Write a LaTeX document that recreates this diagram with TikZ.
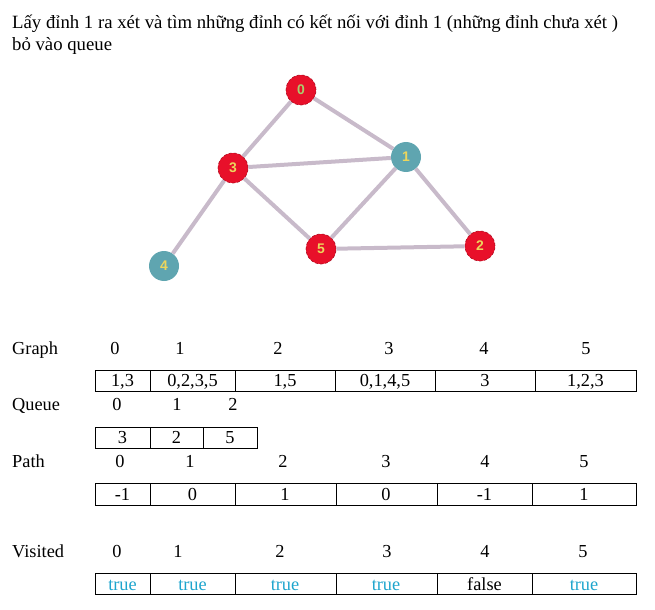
\documentclass[tikz,border=0pt]{standalone}
\usepackage{fontspec}
\setmainfont{Liberation Serif}
\setsansfont{Liberation Sans}
\usetikzlibrary{positioning}
\definecolor{nodered}{RGB}{232,16,42}
\definecolor{nodeteal}{RGB}{95,165,176}
\definecolor{edgegrey}{RGB}{200,186,202}
\definecolor{labelyellow}{RGB}{236,214,92}
\definecolor{labelgreen}{RGB}{170,205,110}
\definecolor{truecyan}{RGB}{30,165,205}
\tikzset{
	vtx/.style={circle, minimum size=30bp, inner sep=0pt, font=\sffamily\bfseries\fontsize{14}{14}\selectfont, text=labelyellow},
	redvtx/.style={vtx, fill=nodered, draw=nodered!75!black, densely dashed, line width=0.6bp},
	tealvtx/.style={vtx, fill=nodeteal},
	edge/.style={draw=edgegrey, line width=4bp},
	cell/.style={draw, line width=0.8bp},
	txt/.style={font=\fontsize{18.4}{22}\selectfont, anchor=base, inner sep=0pt},
	tru/.style={txt, text=truecyan}
}
\begin{document}
\begin{tikzpicture}[x=1bp,y=-1bp]
	\useasboundingbox (0,0) rectangle (655,610);
	\node[txt, font=\fontsize{18.8}{22}\selectfont, anchor=base west] (title1) at (12,29) {Lấy đỉnh 1 ra xét và tìm những đỉnh có kết nối với đỉnh 1 (những đỉnh chưa xét )};
	\node[txt, font=\fontsize{18.8}{22}\selectfont, anchor=base west] (title2) at (12,51) {bỏ vào queue};
	% graph
	\node[redvtx, text=labelgreen] (v0) at (301,90) {0};
	\node[tealvtx] (v1) at (406,157) {1};
	\node[redvtx] (v2) at (480,246) {2};
	\node[redvtx] (v3) at (233,168) {3};
	\node[tealvtx] (v4) at (164,266) {4};
	\node[redvtx] (v5) at (321,249) {5};
	\draw[edge] (v0) -- (v3);
	\draw[edge] (v0) -- (v1);
	\draw[edge] (v3) -- (v1);
	\draw[edge] (v3) -- (v5);
	\draw[edge] (v3) -- (v4);
	\draw[edge] (v1) -- (v5);
	\draw[edge] (v1) -- (v2);
	\draw[edge] (v5) -- (v2);
	% Graph row
	\node[txt, anchor=base west] (graphlbl) at (12,354) {Graph};
	\node[txt] (gi0) at (115,354) {0};
	\node[txt] (gi1) at (180,354) {1};
	\node[txt] (gi2) at (278,354) {2};
	\node[txt] (gi3) at (389,354) {3};
	\node[txt] (gi4) at (484,354) {4};
	\node[txt] (gi5) at (586,354) {5};
	\draw[cell] (95,370) rectangle (636,391);
	\foreach \x in {150,235,335,435,535} \draw[cell] (\x,370) -- (\x,391);
	\node[txt] (g0) at (122.5,386) {1,3};
	\node[txt] (g1) at (192.5,386) {0,2,3,5};
	\node[txt] (g2) at (285,386) {1,5};
	\node[txt] (g3) at (385,386) {0,1,4,5};
	\node[txt] (g4) at (485,386) {3};
	\node[txt] (g5) at (585.5,386) {1,2,3};
	% Queue row
	\node[txt, anchor=base west] (queuelbl) at (12,410) {Queue};
	\node[txt] (qi0) at (117,410) {0};
	\node[txt] (qi1) at (177,410) {1};
	\node[txt] (qi2) at (233,410) {2};
	\draw[cell] (95,427) rectangle (257,448);
	\foreach \x in {150,203} \draw[cell] (\x,427) -- (\x,448);
	\node[txt] (q0) at (122.5,443) {3};
	\node[txt] (q1) at (176.5,443) {2};
	\node[txt] (q2) at (230,443) {5};
	% Path row
	\node[txt, anchor=base west] (pathlbl) at (12,467) {Path};
	\node[txt] (pi0) at (120,467) {0};
	\node[txt] (pi1) at (190,467) {1};
	\node[txt] (pi2) at (283,467) {2};
	\node[txt] (pi3) at (386,467) {3};
	\node[txt] (pi4) at (485,467) {4};
	\node[txt] (pi5) at (584,467) {5};
	\draw[cell] (95,483) rectangle (636,505);
	\foreach \x in {150,235,336,437,532} \draw[cell] (\x,483) -- (\x,505);
	\node[txt] (p0) at (122.5,500) {-1};
	\node[txt] (p1) at (192.5,500) {0};
	\node[txt] (p2) at (285,500) {1};
	\node[txt] (p3) at (386,500) {0};
	\node[txt] (p4) at (484.5,500) {-1};
	\node[txt] (p5) at (584,500) {1};
	% Visited row
	\node[txt, anchor=base west] (visitedlbl) at (12,557) {Visited};
	\node[txt] (vi0) at (117,557) {0};
	\node[txt] (vi1) at (178,557) {1};
	\node[txt] (vi2) at (280,557) {2};
	\node[txt] (vi3) at (387,557) {3};
	\node[txt] (vi4) at (485,557) {4};
	\node[txt] (vi5) at (583,557) {5};
	\draw[cell] (95,573) rectangle (636,594);
	\foreach \x in {150,235,336,437,532} \draw[cell] (\x,573) -- (\x,594);
	\node[tru] (s0) at (122.5,590) {true};
	\node[tru] (s1) at (192.5,590) {true};
	\node[tru] (s2) at (285,590) {true};
	\node[tru] (s3) at (386,590) {true};
	\node[txt] (s4) at (484.5,590) {false};
	\node[tru] (s5) at (584,590) {true};
\end{tikzpicture}
\end{document}
